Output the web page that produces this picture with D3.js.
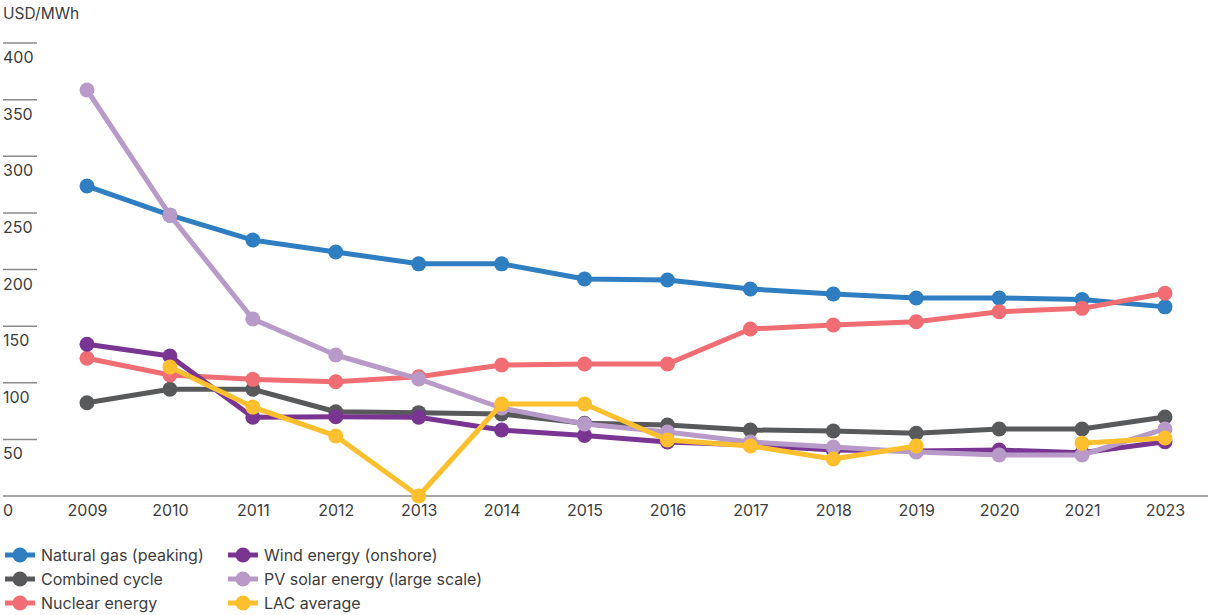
<!DOCTYPE html>
<html><head><meta charset="utf-8">
<script src="https://cdn.jsdelivr.net/npm/d3@7"></script>
<style>body{margin:0;background:#fff}svg{display:block}text{font-family:Inter,"Open Sans",sans-serif}</style>
</head><body>
<svg id="c" width="1208" height="615"></svg>
<script>
const years = ["2009","2010","2011","2012","2013","2014","2015","2016","2017","2018","2019","2020","2021","2023"];
const yTicks = [0,50,100,150,200,250,300,350,400];
const naturalGas = [273.7,248,226,215.5,205,205,191.6,190.7,182.8,178.4,174.8,174.8,173.5,167];
const combinedCycle = [82.4,94.2,94.2,74.4,73.6,72.5,64.2,62.7,58.3,57.4,55.4,59.2,59.2,69.8];
const nuclear = [121.6,106.8,103,100.9,105.3,115.7,116.6,116.6,147.5,151,153.9,162.7,165.7,179];
const wind = [134,123.6,69.5,70,69.5,58.3,53.4,47.7,45,40.6,39.7,40.6,38.2,47.9];
const pvSolar = [358.5,248,156.3,124.5,103.3,77.7,63.6,56.5,47.7,43.3,38.9,36.2,36.2,59.2];
const lacAverage = [null,113.9,78.5,53,0,81.2,81.2,49.4,44.2,32.7,44.2,null,46.5,51.2];
const seriesNames = ["Natural gas (peaking)","Combined cycle","Nuclear energy","Wind energy (onshore)","PV solar energy (large scale)","LAC average"];
const seriesColors = ["#2e7ec1","#58595b","#f06d74","#7a3593","#b79ac8","#fdbf2d"];
const seriesData = [naturalGas,combinedCycle,nuclear,wind,pvSolar,lacAverage];

const svg = d3.select("#c");
const x = d3.scalePoint().domain(years).range([87,1165]);
const y = d3.scaleLinear().domain([0,400]).range([496,43]);
const textColor = "#3d3d3d";

svg.append("text").attr("x",3).attr("y",19).attr("font-size",15.5).attr("fill",textColor).text("USD/MWh");

// y ticks
const yg = svg.append("g");
yTicks.forEach(t=>{
  if(t>0){
    yg.append("line").attr("x1",3).attr("x2",37).attr("y1",y(t)).attr("y2",y(t)).attr("stroke","#8a8a8a").attr("stroke-width",1.5);
  }
  yg.append("text").attr("x",3).attr("y",y(t)+20).attr("font-size",16).attr("fill",textColor).text(t);
});
// baseline
svg.append("line").attr("x1",3).attr("x2",1208).attr("y1",y(0)).attr("y2",y(0)).attr("stroke","#8a8a8a").attr("stroke-width",1.5);

// x axis labels
const xAxis = d3.axisBottom(x).tickSize(0).tickPadding(0);
const xg = svg.append("g").attr("transform",`translate(0,${y(0)+20})`).call(xAxis);
xg.select(".domain").remove();
xg.selectAll("text").attr("font-size",16).attr("fill",textColor).attr("font-family","Inter,sans-serif").attr("dy",0);

const line = d3.line().defined(d=>d!=null).x((d,i)=>x(years[i])).y(d=>y(d));
seriesData.forEach((data,k)=>{
  const g = svg.append("g");
  g.append("path").datum(data).attr("d",line).attr("fill","none").attr("stroke",seriesColors[k]).attr("stroke-width",5).attr("stroke-linejoin","round");
  g.selectAll("circle").data(data.map((v,i)=>({v,i})).filter(d=>d.v!=null)).join("circle")
    .attr("cx",d=>x(years[d.i])).attr("cy",d=>y(d.v)).attr("r",7.5).attr("fill",seriesColors[k]);
});

// legend
const lg = svg.append("g");
seriesNames.forEach((name,k)=>{
  const col = Math.floor(k/3), row = k%3;
  const lx = col===0 ? 5 : 228, ly = 555 + row*24;
  lg.append("line").attr("x1",lx).attr("x2",lx+30).attr("y1",ly).attr("y2",ly).attr("stroke",seriesColors[k]).attr("stroke-width",5);
  lg.append("circle").attr("cx",lx+15).attr("cy",ly).attr("r",7.5).attr("fill",seriesColors[k]);
  lg.append("text").attr("x",lx+36).attr("y",ly+6).attr("font-size",16).attr("fill",textColor).text(name);
});
</script>
</body></html>
